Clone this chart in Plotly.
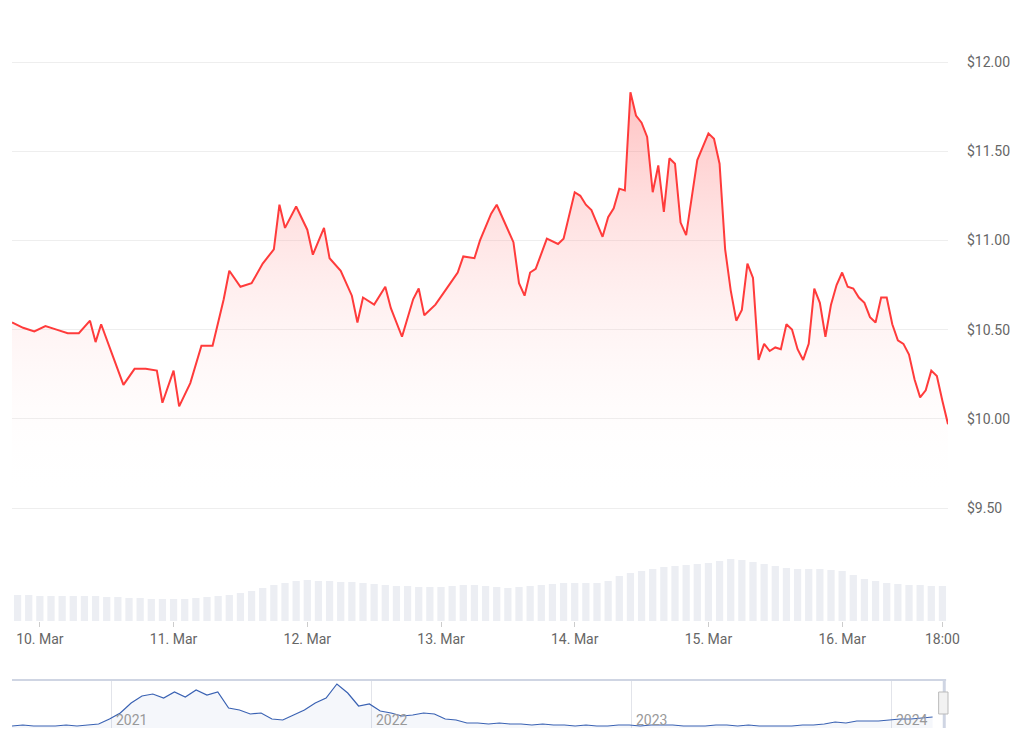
import plotly.graph_objects as go
import pandas as pd

# ---- price data (hours offset from 10 Mar 00:00, price USD)
price_hours = [-5,-3,-1,1,3,5,7,9,10,11,13,15,17,19,21,22,24,25,27,29,31,33,34,36,38,40,42,43,44,46,48,49,51,52,54,56,57,58,60,62,63,65,67,68,69,71,73,75,76,78,79,81,82,84,85,86,87,88,89,91,93,94,96,97,98,99,101,102,103,104,105,106,107,108,109,110,111,112,113,114,115,116,117,118,120,121,122,123,124,125,126,127,128,129,130,131,132,133,134,135,136,137,138,139,140,141,142,143,144,145,146,147,148,149,150,151,152,153,154,155,156,157,158,159,160,161,162,163]
price_values = [10.54,10.51,10.49,10.52,10.50,10.48,10.48,10.55,10.43,10.53,10.36,10.19,10.28,10.28,10.27,10.09,10.27,10.07,10.20,10.41,10.41,10.67,10.83,10.74,10.76,10.87,10.95,11.20,11.07,11.19,11.06,10.92,11.07,10.90,10.83,10.69,10.54,10.68,10.64,10.74,10.62,10.46,10.67,10.73,10.58,10.64,10.73,10.82,10.91,10.90,11.00,11.15,11.20,11.06,10.99,10.76,10.69,10.82,10.84,11.01,10.98,11.01,11.27,11.25,11.20,11.17,11.02,11.13,11.18,11.29,11.28,11.83,11.70,11.66,11.58,11.27,11.42,11.16,11.46,11.43,11.10,11.03,11.25,11.45,11.60,11.57,11.43,10.95,10.72,10.55,10.61,10.87,10.79,10.33,10.42,10.38,10.40,10.39,10.53,10.50,10.39,10.33,10.42,10.73,10.65,10.46,10.64,10.75,10.82,10.74,10.73,10.68,10.65,10.57,10.54,10.68,10.68,10.53,10.44,10.42,10.36,10.22,10.12,10.16,10.27,10.24,10.10,9.97]

# ---- volume (2-hour steps from 9 Mar 20:00), arbitrary units
volume_values = [26,26,25,25,25,25,25,25,24,24,23,23,22,22,22,22,23,24,25,26,28,30,33,36,38,40,41,40,40,39,39,38,37,36,35,35,34,34,34,35,36,36,35,34,33,34,35,36,37,38,38,38,38,40,45,48,50,52,54,55,56,57,58,60,62,61,59,57,55,53,52,52,52,51,50,46,42,40,38,37,36,36,35,35]

# ---- navigator (semi-monthly, mid Aug 2020 - Mar 2024)
nav_values = [2,3,2,2,2,3,2,3,4,9,15,25,32,34,30,36,31,38,33,36,20,18,14,15,9,8,13,18,25,30,44,35,22,24,17,15,12,13,15,14,9,8,5,5,4,5,4,4,3,4,3,3,2,3,2,2,3,3,2,3,3,3,2,2,2,3,3,2,3,2,2,2,2,3,3,4,6,5,7,7,7,8,9,9,10,11]
nav_years = ["2021","2022","2023","2024"]

start = pd.Timestamp("2024-03-10 00:00")
px = [start + pd.Timedelta(hours=h) for h in price_hours]
vx = [pd.Timestamp("2024-03-09 20:00") + pd.Timedelta(hours=2*i) for i in range(len(volume_values))]
nx = [pd.Timestamp("2020-08-15") + pd.Timedelta(days=15.2*i) for i in range(len(nav_values))]

tick_vals = [pd.Timestamp(f"2024-03-{d} 00:00") for d in range(10, 17)] + [pd.Timestamp("2024-03-16 18:00")]
tick_text = [f"{d}. Mar" for d in range(10, 17)] + ["18:00"]
y_ticks = [9.5, 10.0, 10.5, 11.0, 11.5, 12.0]

fig = go.Figure()
fig.add_trace(go.Bar(x=vx, y=volume_values, yaxis="y2", marker_color="#eceef3",
                     marker_line_width=0, width=1.3*3600*1000, hoverinfo="skip"))
fig.add_trace(go.Scatter(x=px, y=price_values, mode="lines",
                         line=dict(color="#ff3b3b", width=2),
                         fill="tozeroy",
                         fillgradient=dict(type="vertical",
                                           colorscale=[[0, "rgba(255,255,255,0)"], [1, "rgba(255,90,90,0.38)"]],
                                           start=9.55, stop=11.85)))
fig.add_trace(go.Scatter(x=nx, y=nav_values, xaxis="x3", yaxis="y3", mode="lines",
                         line=dict(color="#3a62b3", width=1.2),
                         fill="tozeroy", fillcolor="rgba(58,98,179,0.05)"))

H = 748
OFF = 8  # page body margin
def fy(p):
    return 1 - (p - OFF) / H

fig.update_layout(
    width=1024, height=748, margin=dict(l=4, r=84, t=0, b=0),
    paper_bgcolor="white", plot_bgcolor="white", showlegend=False,
    font=dict(family="Roboto", color="#666", size=14),
    xaxis=dict(domain=[0, 1], range=[pd.Timestamp("2024-03-09 19:00"), pd.Timestamp("2024-03-16 19:00")],
               tickvals=tick_vals, ticktext=tick_text, showgrid=False, zeroline=False,
               ticks="outside", ticklen=5, tickcolor="#ccc", anchor="y"),
    yaxis=dict(domain=[fy(621), fy(30)], range=[9.5 - 113/178.4, 12 + 32/178.4], side="right",
               tickvals=y_ticks, ticktext=[f"${v:.2f}" for v in y_ticks],
               showgrid=True, gridcolor="#eeeeee", zeroline=False, ticklabelstandoff=18),
    yaxis2=dict(overlaying="y", range=[0, 591], visible=False),
    xaxis3=dict(domain=[0, 0.998], range=[pd.Timestamp("2020-08-15"), pd.Timestamp("2024-03-18")],
                anchor="y3", tickvals=[pd.Timestamp(f"{y}-01-01") for y in nav_years],
                showticklabels=False, showgrid=True, gridcolor="#e2e4ea", zeroline=False),
    yaxis3=dict(domain=[fy(728), fy(680)], range=[0, 48], visible=False),
)
for y in nav_years:
    fig.add_annotation(x=pd.Timestamp(f"{y}-01-01"), y=fy(730), xref="x3", yref="paper", text=y,
                       showarrow=False, xanchor="left", yanchor="bottom", xshift=3,
                       font=dict(color="#999", size=14))
fig.add_shape(type="line", xref="paper", yref="paper", x0=0, x1=0.998, y0=fy(680), y1=fy(680),
              line=dict(color="#cfd5e3", width=2))
fig.add_shape(type="line", xref="paper", yref="paper", x0=0.996, x1=0.996, y0=fy(728), y1=fy(680),
              line=dict(color="#cfd5e3", width=3))
fig.add_shape(type="rect", xref="paper", yref="paper", x0=0.990, x1=1.0, y0=fy(714), y1=fy(692),
              fillcolor="#f2f2f2", line=dict(color="#bbb", width=1))

fig.write_html("out.html")
